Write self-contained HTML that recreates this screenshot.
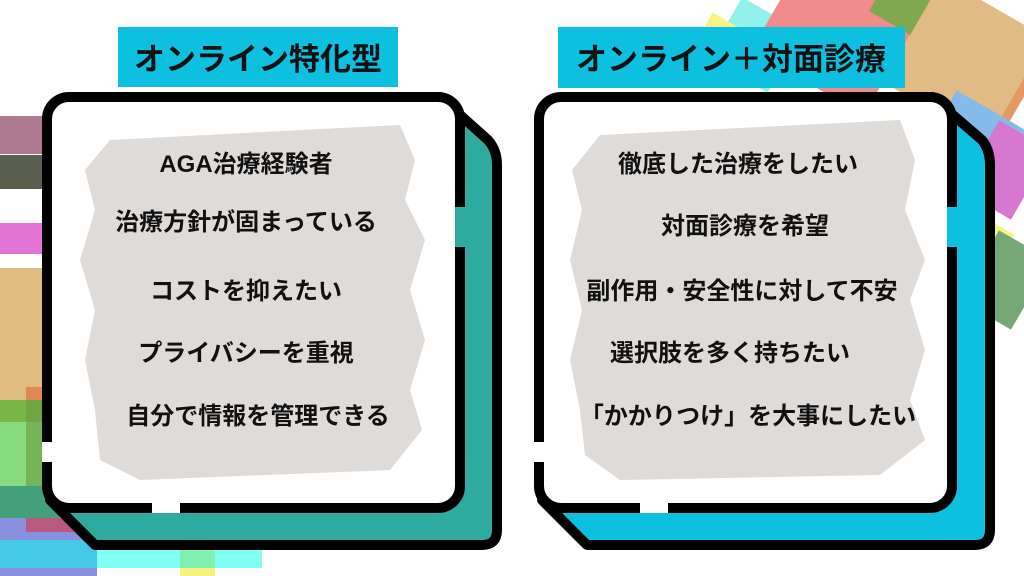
<!DOCTYPE html>
<html><head><meta charset="utf-8"><style>
html,body{margin:0;padding:0;background:#fff;}
body{width:1024px;height:576px;overflow:hidden;position:relative;font-family:"Liberation Sans","Noto Sans CJK JP",sans-serif;}
svg{position:absolute;left:0;top:0;}
</style></head><body>
<svg width="1024" height="576" viewBox="0 0 1024 576" xmlns="http://www.w3.org/2000/svg">
<rect x="0" y="116" width="45" height="38" fill="#b07a92"/>
<rect x="0" y="155" width="45" height="34" fill="#5b5f50"/>
<rect x="0" y="223" width="45" height="31" fill="#e274d6"/>
<rect x="0" y="268" width="45" height="132" fill="#e0bb82"/>
<rect x="26" y="387" width="20" height="20" fill="#e08850"/>
<rect x="0" y="400" width="45" height="22" fill="#78b648"/>
<rect x="0" y="422" width="45" height="64" fill="#88dc80"/>
<rect x="26" y="400" width="22" height="135" fill="#6a9a40" opacity="0.6"/>
<rect x="0" y="486" width="60" height="32" fill="#44a07a"/>
<rect x="0" y="518" width="85" height="30" fill="#8a90e0"/>
<rect x="26" y="518" width="50" height="14" fill="#b85a80"/>
<rect x="0" y="540" width="97" height="28" fill="#44c8e8"/>
<rect x="97" y="548" width="165" height="20" fill="#80fff4"/>
<rect x="180" y="548" width="35" height="20" fill="#80f0b0"/>
<rect x="0" y="568" width="97" height="8" fill="#8a90e0"/>
<rect x="180" y="568" width="35" height="8" fill="#f8f080"/>
<g opacity="0.85">
<rect x="720" y="10" width="70" height="70" fill="#80f0e8" transform="rotate(30 755 45)"/>
<rect x="700" y="20" width="40" height="40" fill="#f8f070" transform="rotate(30 720 40)"/>
<rect x="770" y="-20" width="130" height="110" fill="#ee7878" transform="rotate(30 835 35)"/>
<rect x="880" y="-30" width="60" height="60" fill="#6a9a30" transform="rotate(30 910 0)"/>
<rect x="910" y="20" width="120" height="100" fill="#e08848" transform="rotate(30 970 70)"/>
<rect x="905" y="0" width="120" height="120" fill="#dcb070" transform="rotate(30 965 60)"/>
<rect x="930" y="110" width="100" height="80" fill="#70b0e8" transform="rotate(30 980 150)"/>
<rect x="975" y="130" width="60" height="80" fill="#d060c8" transform="rotate(30 1005 170)"/>
<rect x="960" y="220" width="50" height="30" fill="#f8f070" transform="rotate(30 985 235)"/>
<rect x="975" y="240" width="60" height="80" fill="#609860" transform="rotate(30 1005 280)"/>
</g>
<rect x="118" y="27" width="280" height="60" fill="#0ec0df"/>
<rect x="558" y="27" width="347" height="61" fill="#0ec0df"/>
<text x="258" y="70" text-anchor="middle" font-size="31" font-weight="bold" fill="#111">オンライン特化型</text>
<text x="731" y="70" text-anchor="middle" font-size="31" font-weight="bold" fill="#111">オンライン＋対面診療</text>
<path d="M440,97 L488,140 Q497,150 497,165 L497,530 Q497,545 482,545 L95,545 L50,500 Z" fill="#2eab9e" stroke="#000" stroke-width="10" stroke-linejoin="round"/>
<rect x="47" y="97" width="413" height="411" rx="22" fill="#fff" stroke="#000" stroke-width="10"/>
<rect x="455" y="207" width="12" height="40" fill="#2eab9e"/>
<rect x="42" y="442" width="11" height="20" fill="#fff"/>
<rect x="152" y="502" width="28" height="11" fill="#fff"/>
<path d="M932,97 L982,140 Q990,150 990,165 L990,530 Q990,545 975,545 L587,545 L542,500 Z" fill="#0ec0df" stroke="#000" stroke-width="10" stroke-linejoin="round"/>
<rect x="539" y="97" width="413" height="411" rx="22" fill="#fff" stroke="#000" stroke-width="10"/>
<rect x="947" y="207" width="12" height="40" fill="#0ec0df"/>
<rect x="534" y="442" width="11" height="20" fill="#fff"/>
<rect x="640" y="502" width="28" height="11" fill="#fff"/>
<path d="M110,140 L400,125 L415,160 L405,200 L425,240 L410,290 L425,340 L410,390 L422,430 L390,470 L140,480 L100,460 L95,410 L85,360 L95,310 L80,260 L95,210 L85,170 Z" fill="#dedbd8"/>
<path d="M600,135 L900,120 L915,160 L905,210 L925,260 L910,300 L925,350 L910,400 L925,440 L880,475 L620,480 L585,455 L580,410 L570,360 L582,310 L570,260 L582,210 L572,170 Z" fill="#dedbd8"/>
<g font-size="24" font-weight="bold" fill="#111" text-anchor="middle">
<text x="246" y="172">AGA治療経験者</text>
<text x="246" y="230">治療方針が固まっている</text>
<text x="246" y="299">コストを抑えたい</text>
<text x="246" y="361">プライバシーを重視</text>
<text x="258" y="424">自分で情報を管理できる</text>
<text x="738" y="172">徹底した治療をしたい</text>
<text x="745" y="234">対面診療を希望</text>
<text x="742" y="299">副作用・安全性に対して不安</text>
<text x="730" y="361">選択肢を多く持ちたい</text>
<text x="748" y="424">「かかりつけ」を大事にしたい</text>
</g>
</svg>
</body></html>
